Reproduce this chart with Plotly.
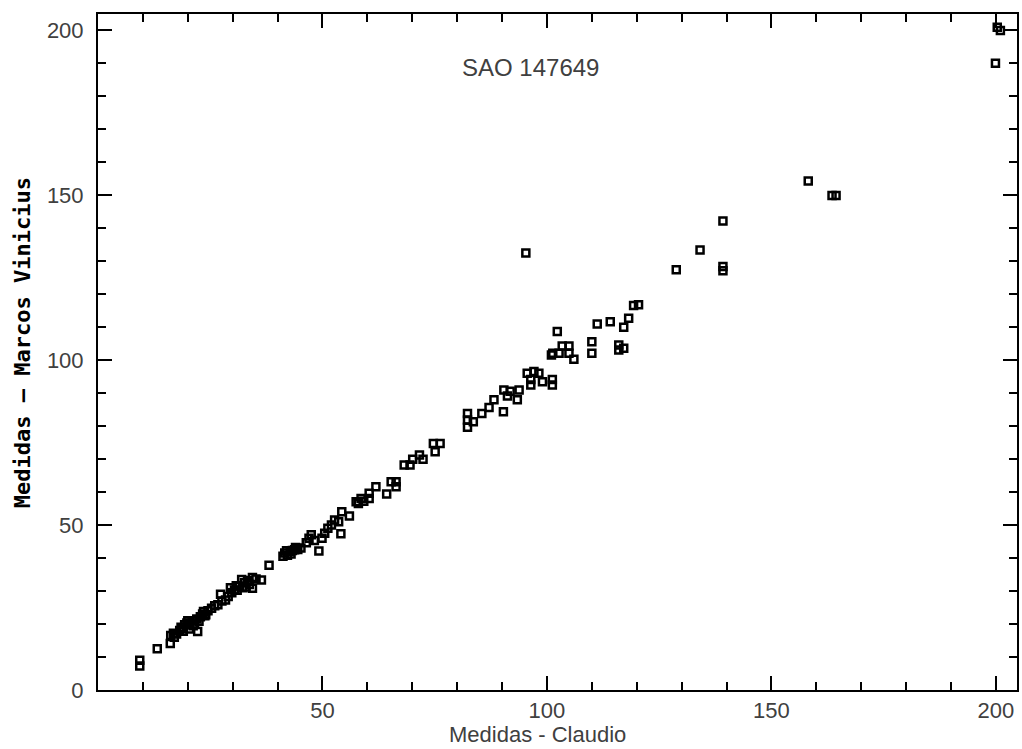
import plotly.graph_objects as go

claudio = [
    9.3, 9.3, 13.2, 16.1,
    16.2, 16.8, 17.0, 17.5, 18.2, 18.5, 18.8, 19.0, 19.3, 19.8, 20.0, 20.4, 20.4, 21.0, 21.2, 21.5, 22.2,
    22.0, 22.5, 22.8, 23.3, 23.5, 23.8, 24.0, 24.5,
    25.3, 26.0, 26.7, 27.3, 27.6, 28.4, 29.0, 29.5, 29.8, 30.4, 30.8, 31.0, 31.5, 32.0, 32.2, 32.6, 33.0,
    33.3, 33.7, 34.4, 34.4, 35.2, 36.4, 38.1,
    41.2, 41.6, 42.0, 42.2, 42.8, 43.0, 43.3, 43.8, 44.0, 44.5, 45.2, 46.4, 47.0, 47.5, 48.2, 49.2, 49.9,
    50.5, 51.2, 52.0, 52.7, 53.6, 54.1, 54.3, 56.0, 57.5, 58.0, 58.6, 59.2, 60.4, 60.4, 61.9, 64.3, 65.3,
    66.4, 66.4, 68.2, 69.5, 70.1, 71.6, 72.4, 74.7, 76.2, 75.1,
    82.3, 82.3, 82.3, 83.6, 85.5, 87.1, 88.2, 90.3, 90.4, 91.2, 91.8, 93.4, 93.8, 95.3, 95.6, 96.4, 96.4,
    97.1, 98.2, 99.0, 101.2, 101.2, 101.3, 101.0, 102.3, 102.7, 103.4, 104.9, 104.9, 106.0, 110.0, 110.0,
    111.2, 114.1, 116.0, 116.0, 117.1, 117.1, 118.2, 119.3, 120.4,
    128.8, 134.1, 139.2, 139.2, 139.2, 158.2, 163.5, 164.4, 199.9, 200.3, 201.0,
]
marcos = [
    9.0, 7.3, 12.5, 14.1,
    16.5, 17.2, 16.0, 17.0, 18.0, 19.0, 18.6, 17.8, 19.8, 20.3, 21.0, 20.2, 18.5, 21.0, 19.5, 20.0, 17.7,
    21.5, 20.8, 22.2, 23.0, 23.8, 22.5, 22.8, 24.0,
    24.8, 25.5, 25.8, 29.0, 27.0, 27.3, 28.3, 31.0, 29.5, 30.3, 31.6, 30.2, 31.5, 33.5, 31.0, 32.5, 31.2,
    33.2, 32.0, 34.1, 30.8, 33.6, 33.3, 37.8,
    40.5, 41.5, 42.2, 40.8, 42.0, 41.2, 42.3, 42.5, 43.2, 42.6, 43.0, 44.6, 46.0, 47.0, 45.3, 42.1, 46.0,
    47.5, 49.0, 50.0, 51.5, 51.0, 47.3, 54.0, 52.7, 57.0, 56.5, 58.0, 57.2, 59.6, 58.0, 61.6, 59.4, 63.1,
    63.1, 61.6, 68.2, 68.2, 69.9, 71.2, 69.9, 74.7, 74.7, 72.2,
    83.8, 81.8, 79.6, 81.3, 83.8, 85.6, 87.9, 84.3, 90.9, 89.1, 90.5, 87.9, 90.9, 132.4, 96.0, 94.1, 92.4,
    96.5, 96.0, 93.4, 94.1, 92.4, 102.0, 101.5, 108.6, 102.0, 104.2, 104.2, 102.0, 100.2, 105.5, 102.0,
    110.9, 111.6, 104.5, 103.0, 103.5, 109.9, 112.6, 116.5, 116.7,
    127.3, 133.3, 142.1, 127.0, 128.3, 154.2, 149.8, 149.8, 189.9, 200.8, 199.8,
]

x_ticks = [50, 100, 150, 200]
y_ticks = [0, 50, 100, 150, 200]
title_text = "SAO 147649"
x_title = "Medidas - Claudio"
y_title = "Medidas \u2014 Marcos Vinicius"

W, H = 1022, 749
L, R, T, B = 98, 3, 14, 59

fig = go.Figure()
fig.add_trace(go.Scatter(
    x=claudio, y=marcos, mode="markers",
    marker=dict(symbol="square-open", size=7, color="black",
                line=dict(width=2.5, color="black")),
    showlegend=False, hoverinfo="x+y", cliponaxis=True,
))

tickfont = dict(family="Liberation Sans, Arial, sans-serif", size=22, color="#404040")
axis_common = dict(
    showline=True, linewidth=2, linecolor="black", mirror="ticks",
    ticks="inside", ticklen=14, tickwidth=2, tickcolor="black",
    showgrid=False, zeroline=False, tickfont=tickfont,
    minor=dict(ticks="inside", ticklen=8, tickwidth=2, tickcolor="black", dtick=10, showgrid=False),
)

fig.update_xaxes(range=[0, 204.7], tickmode="array", tickvals=x_ticks,
                 ticklabelstandoff=0, **axis_common)
fig.update_yaxes(range=[0, 204.8], tickmode="array", tickvals=y_ticks,
                 ticklabelstandoff=8, **axis_common)

plot_w = W - L - R
plot_h = H - T - B

def px_x(p):
    return (p - L) / plot_w

def px_y(p):
    return (H - B - p) / plot_h

fig.update_layout(
    width=W, height=H,
    margin=dict(l=L, r=R, t=T, b=B, pad=0),
    paper_bgcolor="white", plot_bgcolor="white",
    annotations=[
        dict(text=title_text, xref="paper", yref="paper", x=px_x(531), y=px_y(67),
             showarrow=False, xanchor="center", yanchor="middle",
             font=dict(family="Liberation Sans, Arial, sans-serif", size=24, color="#404040")),
        dict(text=x_title, xref="paper", yref="paper", x=px_x(538), y=px_y(734),
             showarrow=False, xanchor="center", yanchor="middle",
             font=dict(family="Liberation Sans, Arial, sans-serif", size=22, color="#404040")),
        dict(text="<b>" + y_title + "</b>", xref="paper", yref="paper", x=px_x(22), y=px_y(343),
             showarrow=False, xanchor="center", yanchor="middle", textangle=-90,
             font=dict(family="DejaVu Sans Mono, monospace", size=22, color="black")),
    ],
)

fig.write_html(
    "out.html",
    config={"displayModeBar": False},
    post_script="document.body.style.margin='0';document.body.style.overflow='hidden';",
)
